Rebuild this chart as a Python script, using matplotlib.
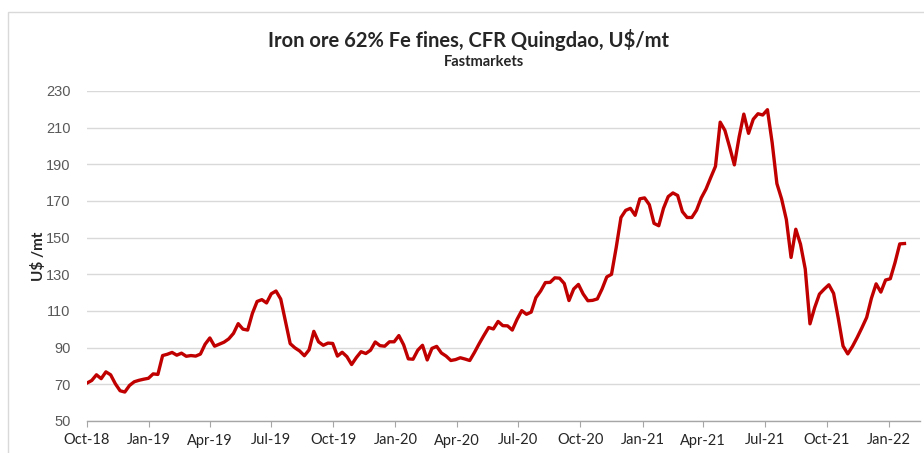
import matplotlib
matplotlib.use('Agg')
import matplotlib.pyplot as plt
import matplotlib.dates as mdates
import matplotlib.patches as patches
import pandas as pd

# weekly iron ore 62% Fe fines, CFR Qingdao (US$/mt)
start_date = '2018-10-01'
prices = [
    70.7, 72.1, 75.2, 73.1, 76.8, 75.2, 70.3, 66.5, 65.8, 69.4,
    71.4, 72.2, 72.8, 73.3, 75.7, 75.4, 85.7, 86.4, 87.4, 85.9,
    87.0, 85.3, 85.7, 85.4, 86.5, 91.9, 95.3, 90.8, 91.9, 93.0,
    94.8, 97.8, 103.1, 100.1, 99.6, 108.7, 115.2, 116.2, 114.4, 119.4,
    120.9, 116.5, 104.4, 92.2, 89.9, 88.2, 85.6, 88.8, 98.9, 93.2,
    91.3, 92.5, 92.3, 85.4, 87.5, 85.1, 80.8, 84.6, 87.8, 86.8,
    88.6, 93.1, 91.1, 90.8, 93.2, 93.2, 96.6, 91.6, 83.9, 83.7,
    88.6, 91.3, 83.3, 89.6, 90.7, 87.1, 85.4, 83.0, 83.5, 84.5,
    83.8, 83.0, 87.4, 92.2, 96.7, 101.0, 100.2, 104.3, 102.0, 101.9,
    99.6, 105.4, 110.2, 108.2, 109.4, 117.3, 120.9, 125.5, 125.6, 128.1,
    127.9, 125.0, 115.7, 122.0, 124.5, 119.3, 115.6, 115.8, 116.6, 122.0,
    128.6, 130.0, 144.7, 161.0, 164.9, 166.0, 162.2, 171.2, 171.7, 168.0,
    157.8, 156.5, 166.0, 172.4, 174.4, 173.0, 164.2, 161.0, 161.0, 165.0,
    171.7, 176.5, 182.8, 188.9, 213.0, 208.5, 199.4, 189.7, 204.8, 217.4,
    206.9, 214.6, 217.6, 216.9, 219.8, 201.8, 179.5, 171.1, 159.9, 139.2,
    154.6, 146.4, 132.9, 103.0, 111.9, 119.2, 121.9, 124.3, 119.6, 105.9,
    90.9, 86.6, 90.7, 95.6, 100.9, 106.5, 116.9, 124.8, 120.3, 126.9,
    127.6, 136.4, 146.6, 146.8,
]
dates = pd.date_range(start_date, periods=len(prices), freq='7D')

y_ticks = [50, 70, 90, 110, 130, 150, 170, 190, 210, 230]
x_ticks = pd.date_range('2018-10-01', '2022-01-01', freq='QS')

title = 'Iron ore 62% Fe fines, CFR Quingdao, U$/mt'
subtitle = 'Fastmarkets'
y_label = 'U$ /mt'

label_font = ['Lato', 'DejaVu Sans']
num_font = ['Liberation Sans Narrow', 'Liberation Sans', 'DejaVu Sans']

fig = plt.figure(figsize=(9.24, 4.53), dpi=100)
fig.patch.set_facecolor('white')

# light chart-area border like the spreadsheet export
border = patches.Rectangle((8 / 924, -0.05), 1.05, (453 - 12) / 453 + 0.05,
                           transform=fig.transFigure, fill=False,
                           edgecolor='#D9D9D9', linewidth=1.0)
fig.add_artist(border)

ax = fig.add_axes([87 / 924, 32 / 453, 833 / 924, 330 / 453])

ax.plot(dates, prices, color='#C00000', linewidth=2.4, solid_joinstyle='round')

ax.set_ylim(50, 230)
ax.set_yticks(y_ticks)
ax.set_xlim(pd.Timestamp('2018-10-01'), pd.Timestamp('2022-02-16'))
ax.set_xticks(x_ticks)
ax.xaxis.set_major_formatter(mdates.DateFormatter('%b-%y'))

ax.grid(axis='y', color='#D9D9D9', linewidth=1.0)
ax.set_axisbelow(True)
for side in ['top', 'right', 'left']:
    ax.spines[side].set_visible(False)
ax.spines['bottom'].set_color('#A6A6A6')
ax.spines['bottom'].set_linewidth(1.0)

ax.tick_params(axis='y', length=0, pad=12, labelsize=10.5, labelcolor='#595959')
ax.tick_params(axis='x', length=4, color='#A6A6A6', pad=5, labelsize=10.5,
               labelcolor='#262626')
for lbl in ax.get_yticklabels():
    lbl.set_family(num_font)
for lbl in ax.get_xticklabels():
    lbl.set_family(label_font)

ax.set_ylabel(y_label, family=label_font, fontweight='bold', fontsize=11,
              color='#262626')
ax.yaxis.set_label_coords((46 - 87) / 833, 0.5)

fig.text(469 / 924, 1 - 40 / 453, title, ha='center', va='center',
         family=label_font, fontweight='bold', fontsize=14.5, color='#262626')
fig.text(484 / 924, 1 - 62 / 453, subtitle, ha='center', va='center',
         family=label_font, fontweight='bold', fontsize=10.5, color='#262626')

fig.savefig('out.png', dpi=100, facecolor='white')
